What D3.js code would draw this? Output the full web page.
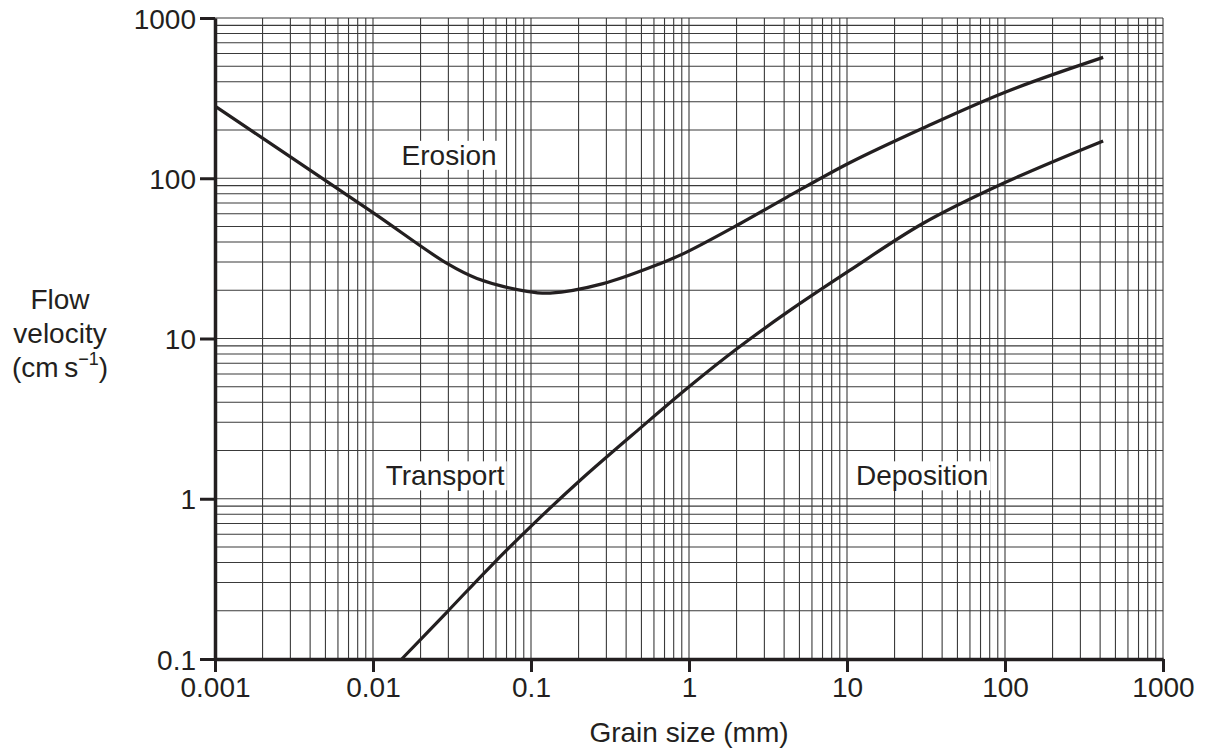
<!DOCTYPE html>
<html>
<head>
<meta charset="utf-8">
<script src="https://cdn.jsdelivr.net/npm/d3@7"></script>
<style>
  body { margin: 0; background: #fff; }
  svg text { font-family: "Liberation Sans", Arial, sans-serif; fill: #231f20; }
</style>
</head>
<body>
<script>
// curves (grain size mm, velocity cm/s)
const erosion = [
  [0.001, 282], [0.002, 178], [0.01, 61], [0.0294, 29.4], [0.0455, 23.7],
  [0.0944, 19.7], [0.132, 19.2], [0.286, 22], [0.655, 29.3], [0.966, 34.6],
  [2.1, 52], [4.15, 76], [10.4, 125], [30.4, 206], [102, 347], [418, 568]
];
const deposition = [
  [0.0152, 0.1], [0.0292, 0.195], [0.055, 0.375], [0.101, 0.68], [0.204, 1.3],
  [0.5, 2.8], [1, 5], [2, 8.6], [4.15, 14.5], [10.4, 26.6], [30, 52],
  [100, 94], [418, 171]
];
const xTicks = [0.001, 0.01, 0.1, 1, 10, 100, 1000];
const yTicks = [0.1, 1, 10, 100, 1000];
const regionLabels = [
  { text: "Erosion", x: 0.0303, y: 139 },
  { text: "Transport", x: 0.0286, y: 1.39 },
  { text: "Deposition", x: 29.9, y: 1.39 }
];

const width = 1207, height = 754;
const margin = { top: 18, right: 44, bottom: 95, left: 215 };

const svg = d3.select("body").append("svg")
  .attr("width", width)
  .attr("height", height);

const x = d3.scaleLog().domain([0.001, 1000]).range([margin.left, width - margin.right]);
const y = d3.scaleLog().domain([0.1, 1000]).range([height - margin.bottom, margin.top]);

// minor + major grid: 1..9 in every decade
const gridX = [], gridY = [];
for (let e = -3; e < 3; e++) for (let m = 1; m < 10; m++) gridX.push(m * Math.pow(10, e));
gridX.push(1000);
for (let e = -1; e < 3; e++) for (let m = 1; m < 10; m++) gridY.push(m * Math.pow(10, e));
gridY.push(1000);

const grid = svg.append("g").attr("stroke", "#3a3a3a").attr("stroke-width", 1.1);
grid.selectAll("line.vx").data(gridX).enter().append("line")
  .attr("x1", d => x(d)).attr("x2", d => x(d))
  .attr("y1", y(0.1)).attr("y2", y(1000));
grid.selectAll("line.hy").data(gridY).enter().append("line")
  .attr("y1", d => y(d)).attr("y2", d => y(d))
  .attr("x1", x(0.001)).attr("x2", x(1000));

// region labels with white boxes hiding the grid
regionLabels.forEach(l => {
  const g = svg.append("g");
  const t = g.append("text")
    .attr("x", x(l.x)).attr("y", y(l.y))
    .attr("text-anchor", "middle")
    .attr("dominant-baseline", "central")
    .attr("font-size", 28)
    .text(l.text);
  const b = t.node().getBBox();
  g.insert("rect", "text")
    .attr("x", b.x - 2).attr("y", b.y + 1)
    .attr("width", b.width + 4).attr("height", b.height - 2)
    .attr("fill", "#fff");
});

// curves
const line = d3.line()
  .x(d => x(d[0])).y(d => y(d[1]))
  .curve(d3.curveCatmullRom.alpha(0.5));
[erosion, deposition].forEach(s => {
  svg.append("path")
    .attr("d", line(s))
    .attr("fill", "none")
    .attr("stroke", "#231f20")
    .attr("stroke-width", 3.2);
});

// axes
const xAxis = d3.axisBottom(x).tickValues(xTicks).tickFormat(d => String(d))
  .tickSize(13).tickSizeOuter(0).tickPadding(5);
const yAxis = d3.axisLeft(y).tickValues(yTicks).tickFormat(d => String(d))
  .tickSize(15).tickSizeOuter(0).tickPadding(4);

const gx = svg.append("g")
  .attr("transform", `translate(0,${y(0.1)})`)
  .call(xAxis);
const gy = svg.append("g")
  .attr("transform", `translate(${x(0.001)},0)`)
  .call(yAxis);

[gx, gy].forEach(g => {
  g.select(".domain").attr("stroke", "#231f20").attr("stroke-width", 3.5);
  g.selectAll(".tick line").attr("stroke", "#231f20").attr("stroke-width", 3);
  g.selectAll(".tick text")
    .attr("font-size", 28)
    .attr("font-family", "Liberation Sans, Arial, sans-serif")
    .attr("fill", "#231f20");
});
gy.selectAll(".tick text").attr("dy", "0.36em");

// axis titles
svg.append("text")
  .attr("x", x(1)).attr("y", 742)
  .attr("text-anchor", "middle")
  .attr("font-size", 28)
  .text("Grain size (mm)");

const yt = svg.append("g").attr("font-size", 28);
yt.append("text").attr("x", 60).attr("y", 309).attr("text-anchor", "middle").text("Flow");
yt.append("text").attr("x", 60).attr("y", 343).attr("text-anchor", "middle").text("velocity");
const unit = yt.append("text").attr("x", 60).attr("y", 377).attr("text-anchor", "middle");
unit.append("tspan").text("(cm\u2009s");
unit.append("tspan").attr("font-size", 18).attr("dy", -12).text("\u22121");
unit.append("tspan").attr("dy", 12).text(")");
</script>
</body>
</html>
